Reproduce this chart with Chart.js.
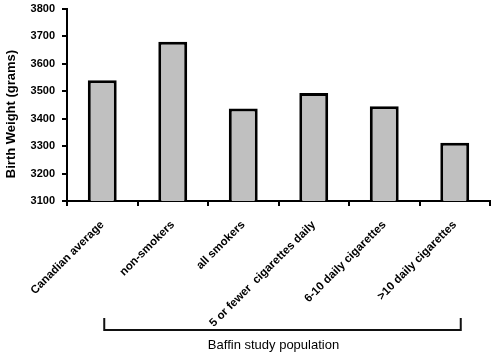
<!DOCTYPE html>
<html>
<head>
<meta charset="utf-8">
<script src="https://cdn.jsdelivr.net/npm/chart.js@4/dist/chart.umd.min.js"></script>
<style>
html,body{margin:0;padding:0;background:#fff;}
#wrap{width:500px;height:357px;position:relative;}
</style>
</head>
<body>
<div id="wrap"><canvas id="c" width="500" height="357"></canvas></div>
<script>
const categories = ["Canadian average", "non-smokers", "all smokers", "5 or fewer  cigarettes daily", "6-10 daily cigarettes", ">10 daily cigarettes"];
const birthWeights = [3540, 3681, 3437, 3494, 3445, 3312];
const yTicks = [3100, 3200, 3300, 3400, 3500, 3600, 3700, 3800];
const yTitle = "Birth Weight (grams)";
const groupLabel = "Baffin study population";

const annotatePlugin = {
  id: 'annotate',
  afterDraw(chart) {
    const ctx = chart.ctx;
    const xs = chart.scales.x;
    const ys = chart.scales.y;
    const x1 = xs.getPixelForValue(0) + 2;
    const x2 = xs.getPixelForValue(5) + 6;
    const yTop = 318, yBot = 330;
    ctx.save();
    ctx.strokeStyle = '#111';
    ctx.lineWidth = 2;
    ctx.beginPath();
    ctx.moveTo(x1, yTop);
    ctx.lineTo(x1, yBot);
    ctx.lineTo(x2, yBot);
    ctx.lineTo(x2, yTop);
    ctx.stroke();
    ctx.fillStyle = '#000';
    ctx.font = '13px "Liberation Sans", Arial, sans-serif';
    ctx.textAlign = 'center';
    ctx.textBaseline = 'middle';
    ctx.fillText(groupLabel, (x1 + x2) / 2 - 9, 345);
    // y-axis title
    ctx.translate(11, (ys.top + ys.bottom) / 2 + 9);
    ctx.rotate(-Math.PI / 2);
    ctx.font = 'bold 13px "Liberation Sans", Arial, sans-serif';
    ctx.fillText(yTitle, 0, 0);
    ctx.restore();
  }
};

new Chart(document.getElementById('c'), {
  type: 'bar',
  data: {
    labels: categories,
    datasets: [{
      data: birthWeights,
      backgroundColor: '#c0c0c0',
      borderColor: '#000',
      borderWidth: 3,
      borderSkipped: false,
      categoryPercentage: 1,
      barPercentage: 0.41
    }]
  },
  options: {
    responsive: false,
    animation: false,
    devicePixelRatio: 1,
    layout: { padding: { top: 9, right: 10, left: 3, bottom: 0 } },
    plugins: { legend: { display: false }, tooltip: { enabled: false } },
    scales: {
      x: {
        grid: { display: true, drawOnChartArea: false, offset: true, tickLength: 5, color: '#000', lineWidth: 2 },
        border: { display: true, color: '#000', width: 2 },
        ticks: {
          color: '#000',
          font: { family: '"Liberation Sans", Arial, sans-serif', size: 11.5, weight: 'bold' },
          maxRotation: 45, minRotation: 45, autoSkip: false, padding: 12
        },
        afterFit(scale) { scale.height = 156; scale.paddingLeft = 0; scale.paddingRight = 0; }
      },
      y: {
        min: 3100, max: 3800,
        afterBuildTicks(scale) { scale.ticks = yTicks.map(v => ({ value: v })); },
        grid: { display: true, drawOnChartArea: false, tickLength: 5, color: '#000', lineWidth: 2 },
        border: { display: true, color: '#000', width: 2 },
        ticks: {
          color: '#000',
          font: { family: '"Liberation Sans", Arial, sans-serif', size: 11, weight: 'bold' },
          padding: 7,
          callback: (v) => String(v)
        },
        title: { display: false },
        afterFit(scale) { scale.width = 64; scale.paddingTop = 0; scale.paddingBottom = 0; }
      }
    }
  },
  plugins: [annotatePlugin]
});
</script>
</body>
</html>
